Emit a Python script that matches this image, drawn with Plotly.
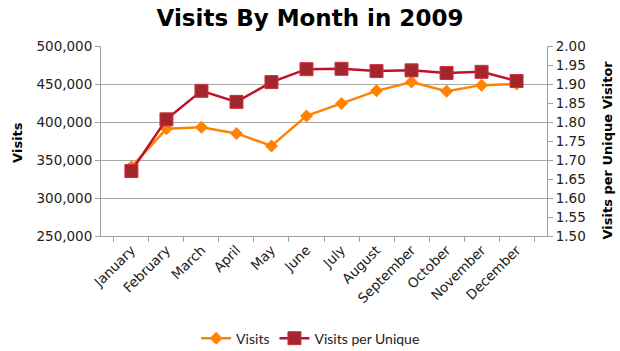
import plotly.graph_objects as go

months = ["January", "February", "March", "April", "May", "June", "July",
          "August", "September", "October", "November", "December"]
visits = [341000, 391000, 393000, 385000, 368500, 408000, 424500, 441000,
          452500, 440500, 448500, 450000]
visits_per_unique = [1.671, 1.807, 1.882, 1.853, 1.905, 1.939, 1.940, 1.934,
                     1.936, 1.929, 1.932, 1.908]

fig = go.Figure()
fig.add_trace(go.Scatter(
    x=months, y=visits, name="Visits", mode="lines+markers",
    line=dict(color="#FF8200", width=2.5),
    marker=dict(symbol="diamond", size=10, color="#FF8200"),
    yaxis="y"))
fig.add_trace(go.Scatter(
    x=months, y=visits_per_unique, name="Visits per Unique", mode="lines+markers",
    line=dict(color="#C0102A", width=2.5),
    marker=dict(symbol="square", size=13, color="#A3262F",
                line=dict(color="#D0303E", width=1)),
    yaxis="y2"))

tickfont = dict(family="DejaVu Sans", size=13.5, color="#222222")
fig.update_layout(
    width=620, height=351,
    margin=dict(l=101, r=73, t=46, b=115, autoexpand=False),
    paper_bgcolor="white", plot_bgcolor="white",
    title=dict(text="<b>Visits By Month in 2009</b>", x=0.5, xanchor="center",
               y=1 - 18 / 351, yanchor="middle",
               font=dict(family="DejaVu Sans", size=23, color="black")),
    xaxis=dict(tickangle=-45, tickson="boundaries", ticks="outside", ticklen=5,
               tickcolor="#A0A0A0", showline=True, linecolor="#A0A0A0",
               showgrid=False, tickfont=tickfont, mirror=False, automargin=False),
    yaxis=dict(range=[250000, 500000], dtick=50000, tickformat=",",
               ticks="outside", ticklen=5, tickcolor="#A0A0A0",
               showline=True, linecolor="#A0A0A0", showgrid=True,
               gridcolor="#A8A8A8", gridwidth=1, tickfont=tickfont, zeroline=False,
               automargin=False),
    yaxis2=dict(range=[1.5, 2.0], dtick=0.05, tickformat=".2f", overlaying="y",
                side="right", ticks="outside", ticklen=5, tickcolor="#A0A0A0",
                showline=True, linecolor="#A0A0A0", showgrid=False,
                tickfont=tickfont, zeroline=False, automargin=False),
    legend=dict(orientation="h", x=0.47, xanchor="center", y=-0.54,
                yanchor="middle", font=dict(family="Lato", size=14, color="#222222"),
                bgcolor="rgba(0,0,0,0)"),
    annotations=[
        dict(text="<b>Visits</b>", xref="paper", yref="paper",
             x=-83 / 446, y=0.49, xanchor="center", yanchor="middle",
             textangle=-90, showarrow=False,
             font=dict(family="DejaVu Sans", size=13, color="black")),
        dict(text="<b>Visits per Unique Visitor</b>", xref="paper", yref="paper",
             x=1 + 60 / 446, y=0.45, xanchor="center", yanchor="middle",
             textangle=-90, showarrow=False,
             font=dict(family="DejaVu Sans", size=13, color="black")),
    ],
)

fig.write_html("out.html")
